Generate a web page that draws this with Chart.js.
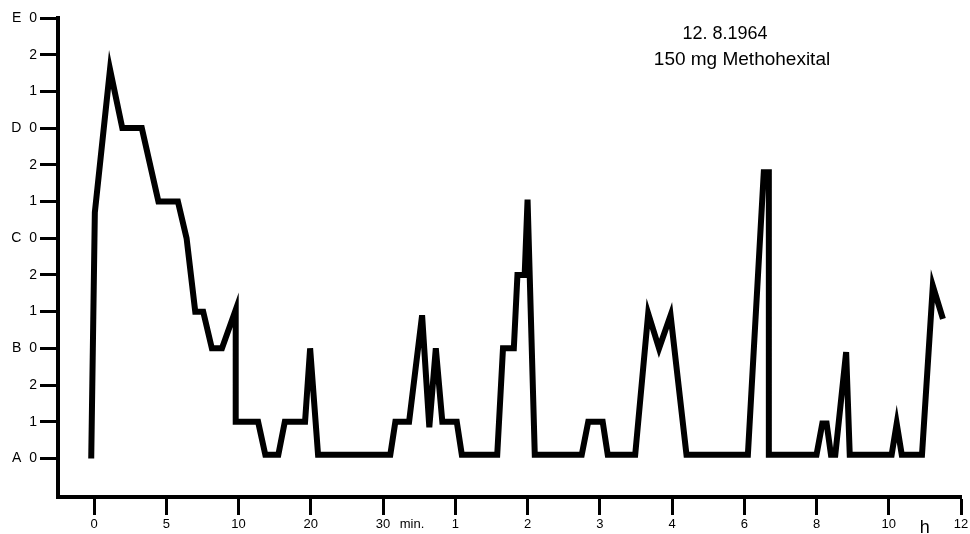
<!DOCTYPE html>
<html>
<head>
<meta charset="utf-8">
<script src="https://cdn.jsdelivr.net/npm/chart.js@4/dist/chart.umd.min.js"></script>
<style>
  html, body { margin: 0; padding: 0; background: #ffffff; }
  #wrap { width: 970px; height: 534px; }
</style>
</head>
<body>
<div id="wrap"><canvas id="c" width="970" height="534"></canvas></div>
<script>
// Trace positions (x in axis-tick units: 0=0min,1=5,2=10,3=20,4=30min,5=1h,6=2h,7=3h,8=4h,9=6h,10=8h,11=10h,12=12h)
const tracePos = [-0.04, 0.01, 0.22, 0.39, 0.66, 0.89, 1.16, 1.28, 1.40, 1.51, 1.63, 1.77, 1.96, 1.96,
  2.27, 2.37, 2.55, 2.64, 2.92, 2.99, 3.10, 4.10, 4.17, 4.36, 4.54, 4.64, 4.73, 4.82, 5.02, 5.09,
  5.58, 5.66, 5.81, 5.86, 5.96, 6.00, 6.10, 6.75, 6.84, 7.04, 7.11, 7.49, 7.67, 7.82, 7.98, 8.20,
  9.05, 9.27, 9.34, 9.34, 10.00, 10.08, 10.14, 10.20, 10.26, 10.41, 10.46, 11.04, 11.11, 11.18, 11.46, 11.61, 11.75];
// Depth level (0 = A0 ... 12 = E0)
const traceLevel = [0, 6.7, 10.6, 9.0, 9.0, 7.0, 7.0, 6.0, 4.0, 4.0, 3.0, 3.0, 4.05, 1.0,
  1.0, 0.1, 0.1, 1.0, 1.0, 3.0, 0.1, 0.1, 1.0, 1.0, 3.9, 0.85, 3.0, 1.0, 1.0, 0.1,
  0.1, 3.0, 3.0, 5.0, 5.0, 7.05, 0.1, 0.1, 1.0, 1.0, 0.1, 0.1, 3.95, 3.0, 3.9, 0.1,
  0.1, 7.8, 7.8, 0.1, 0.1, 0.95, 0.95, 0.1, 0.1, 2.9, 0.1, 0.1, 0.95, 0.1, 0.1, 4.7, 3.8];

const xTickValues = [0, 1, 2, 3, 4, 5, 6, 7, 8, 9, 10, 11, 12];
const xTickLabels = ['0', '5', '10', '20', '30', '1', '2', '3', '4', '6', '8', '10', '12'];
const xUnitValues = [4.4, 11.5];
const xUnitLabels = ['min.', 'h'];

const yTickValues = [0, 1, 2, 3, 4, 5, 6, 7, 8, 9, 10, 11, 12];
const yTickLabels = ['A  0', '1', '2', 'B  0', '1', '2', 'C  0', '1', '2', 'D  0', '1', '2', 'E  0'];

const titleLines = ['12. 8.1964', '150 mg Methohexital'];

const FONT = "'Liberation Sans', Arial, Helvetica, sans-serif";

const points = tracePos.map((x, i) => ({ x: x, y: traceLevel[i] }));
const xLabelMap = new Map();
xTickValues.forEach((v, i) => xLabelMap.set(v, xTickLabels[i]));
xUnitValues.forEach((v, i) => xLabelMap.set(v, xUnitLabels[i]));
const yLabelMap = new Map();
yTickValues.forEach((v, i) => yLabelMap.set(v, yTickLabels[i]));

const titlePlugin = {
  id: 'titleText',
  afterDraw(chart) {
    const ctx = chart.ctx;
    ctx.save();
    ctx.fillStyle = '#000';
    ctx.textAlign = 'center';
    ctx.textBaseline = 'alphabetic';
    ctx.font = "18px " + FONT;
    ctx.fillText(titleLines[0], 725, 39);
    ctx.font = "19px " + FONT;
    ctx.fillText(titleLines[1], 742, 65);
    ctx.restore();
  }
};

new Chart(document.getElementById('c'), {
  type: 'line',
  data: {
    datasets: [{
      data: points,
      borderColor: '#000',
      borderWidth: 6,
      borderJoinStyle: 'miter',
      pointRadius: 0,
      pointHoverRadius: 0,
      tension: 0,
      fill: false
    }]
  },
  options: {
    responsive: false,
    animation: false,
    devicePixelRatio: 1,
    layout: { padding: { top: 18, right: 9, left: 0, bottom: 0 } },
    plugins: { legend: { display: false }, tooltip: { enabled: false }, title: { display: false } },
    scales: {
      x: {
        type: 'linear',
        position: 'bottom',
        min: -0.5,
        max: 12,
        afterBuildTicks(scale) {
          scale.ticks = xTickValues.concat(xUnitValues).map(v => ({ value: v }));
        },
        afterFit(scale) { scale.height = 37; },
        grid: {
          drawOnChartArea: false,
          drawTicks: true,
          tickLength: 18,
          tickWidth: 3,
          tickColor: (ctx) => (ctx.tick && xUnitValues.includes(ctx.tick.value)) ? 'rgba(0,0,0,0)' : '#000'
        },
        border: { display: true, color: '#000', width: 4 },
        ticks: {
          autoSkip: false,
          maxRotation: 0,
          padding: 2,
          color: '#000',
          font: (ctx) => (ctx.tick && ctx.tick.value === 11.5) ? { family: FONT, size: 18 } : { family: FONT, size: 13 },
          callback: (v) => xLabelMap.has(v) ? xLabelMap.get(v) : ''
        }
      },
      y: {
        type: 'linear',
        position: 'left',
        min: -1.05,
        max: 12,
        afterBuildTicks(scale) {
          scale.ticks = yTickValues.map(v => ({ value: v }));
        },
        afterFit(scale) { scale.width = 58; },
        grid: {
          drawOnChartArea: false,
          drawTicks: true,
          tickLength: 18,
          tickWidth: 3,
          tickColor: '#000'
        },
        border: { display: true, color: '#000', width: 4 },
        ticks: {
          autoSkip: false,
          padding: 3,
          color: '#000',
          font: { family: FONT, size: 14 },
          callback: (v) => yLabelMap.has(v) ? yLabelMap.get(v) : ''
        }
      }
    }
  },
  plugins: [titlePlugin]
});
</script>
</body>
</html>
